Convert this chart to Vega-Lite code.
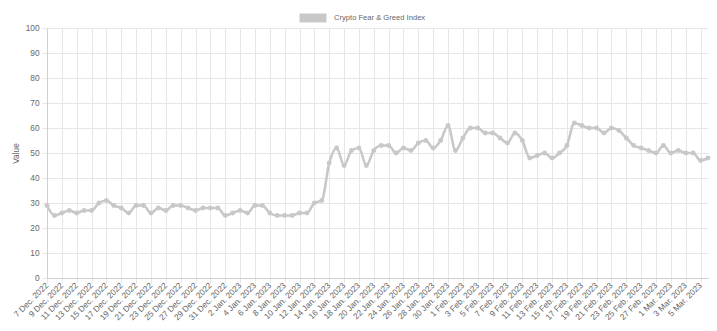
{
  "$schema": "https://vega.github.io/schema/vega-lite/v6.json",
  "width": 661,
  "height": 250,
  "autosize": {"type": "none"},
  "padding": {"left": 47, "top": 28, "right": 9, "bottom": 53},
  "background": "#ffffff",
  "config": {
    "view": {"stroke": null},
    "font": "Liberation Sans",
    "axis": {
      "labelFont": "Liberation Sans",
      "labelFontSize": 8.3,
      "labelColor": "#666666",
      "gridColor": "#e6e6e6",
      "gridWidth": 1,
      "domainColor": "#cfcfcf",
      "tickColor": "#e6e6e6",
      "tickSize": 5,
      "titleFont": "Liberation Sans",
      "titleFontSize": 8.3,
      "titleColor": "#666666",
      "titleFontWeight": "normal"
    }
  },
  "data": {
    "values": [
      {"date": "7 Dec. 2022", "value": 29},
      {"date": "8 Dec. 2022", "value": 25},
      {"date": "9 Dec. 2022", "value": 26},
      {"date": "10 Dec. 2022", "value": 27},
      {"date": "11 Dec. 2022", "value": 26},
      {"date": "12 Dec. 2022", "value": 27},
      {"date": "13 Dec. 2022", "value": 27},
      {"date": "14 Dec. 2022", "value": 30},
      {"date": "15 Dec. 2022", "value": 31},
      {"date": "16 Dec. 2022", "value": 29},
      {"date": "17 Dec. 2022", "value": 28},
      {"date": "18 Dec. 2022", "value": 26},
      {"date": "19 Dec. 2022", "value": 29},
      {"date": "20 Dec. 2022", "value": 29},
      {"date": "21 Dec. 2022", "value": 26},
      {"date": "22 Dec. 2022", "value": 28},
      {"date": "23 Dec. 2022", "value": 27},
      {"date": "24 Dec. 2022", "value": 29},
      {"date": "25 Dec. 2022", "value": 29},
      {"date": "26 Dec. 2022", "value": 28},
      {"date": "27 Dec. 2022", "value": 27},
      {"date": "28 Dec. 2022", "value": 28},
      {"date": "29 Dec. 2022", "value": 28},
      {"date": "30 Dec. 2022", "value": 28},
      {"date": "31 Dec. 2022", "value": 25},
      {"date": "1 Jan. 2023", "value": 26},
      {"date": "2 Jan. 2023", "value": 27},
      {"date": "3 Jan. 2023", "value": 26},
      {"date": "4 Jan. 2023", "value": 29},
      {"date": "5 Jan. 2023", "value": 29},
      {"date": "6 Jan. 2023", "value": 26},
      {"date": "7 Jan. 2023", "value": 25},
      {"date": "8 Jan. 2023", "value": 25},
      {"date": "9 Jan. 2023", "value": 25},
      {"date": "10 Jan. 2023", "value": 26},
      {"date": "11 Jan. 2023", "value": 26},
      {"date": "12 Jan. 2023", "value": 30},
      {"date": "13 Jan. 2023", "value": 31},
      {"date": "14 Jan. 2023", "value": 46},
      {"date": "15 Jan. 2023", "value": 52},
      {"date": "16 Jan. 2023", "value": 45},
      {"date": "17 Jan. 2023", "value": 51},
      {"date": "18 Jan. 2023", "value": 52},
      {"date": "19 Jan. 2023", "value": 45},
      {"date": "20 Jan. 2023", "value": 51},
      {"date": "21 Jan. 2023", "value": 53},
      {"date": "22 Jan. 2023", "value": 53},
      {"date": "23 Jan. 2023", "value": 50},
      {"date": "24 Jan. 2023", "value": 52},
      {"date": "25 Jan. 2023", "value": 51},
      {"date": "26 Jan. 2023", "value": 54},
      {"date": "27 Jan. 2023", "value": 55},
      {"date": "28 Jan. 2023", "value": 52},
      {"date": "29 Jan. 2023", "value": 55},
      {"date": "30 Jan. 2023", "value": 61},
      {"date": "31 Jan. 2023", "value": 51},
      {"date": "1 Feb. 2023", "value": 56},
      {"date": "2 Feb. 2023", "value": 60},
      {"date": "3 Feb. 2023", "value": 60},
      {"date": "4 Feb. 2023", "value": 58},
      {"date": "5 Feb. 2023", "value": 58},
      {"date": "6 Feb. 2023", "value": 56},
      {"date": "7 Feb. 2023", "value": 54},
      {"date": "8 Feb. 2023", "value": 58},
      {"date": "9 Feb. 2023", "value": 55},
      {"date": "10 Feb. 2023", "value": 48},
      {"date": "11 Feb. 2023", "value": 49},
      {"date": "12 Feb. 2023", "value": 50},
      {"date": "13 Feb. 2023", "value": 48},
      {"date": "14 Feb. 2023", "value": 50},
      {"date": "15 Feb. 2023", "value": 53},
      {"date": "16 Feb. 2023", "value": 62},
      {"date": "17 Feb. 2023", "value": 61},
      {"date": "18 Feb. 2023", "value": 60},
      {"date": "19 Feb. 2023", "value": 60},
      {"date": "20 Feb. 2023", "value": 58},
      {"date": "21 Feb. 2023", "value": 60},
      {"date": "22 Feb. 2023", "value": 59},
      {"date": "23 Feb. 2023", "value": 56},
      {"date": "24 Feb. 2023", "value": 53},
      {"date": "25 Feb. 2023", "value": 52},
      {"date": "26 Feb. 2023", "value": 51},
      {"date": "27 Feb. 2023", "value": 50},
      {"date": "28 Feb. 2023", "value": 53},
      {"date": "1 Mar. 2023", "value": 50},
      {"date": "2 Mar. 2023", "value": 51},
      {"date": "3 Mar. 2023", "value": 50},
      {"date": "4 Mar. 2023", "value": 50},
      {"date": "5 Mar. 2023", "value": 47},
      {"date": "6 Mar. 2023", "value": 48}
    ]
  },
  "mark": {
    "type": "line",
    "interpolate": "monotone",
    "strokeWidth": 2.6,
    "point": {"filled": true, "size": 24, "color": "#c8c8c8"}
  },
  "encoding": {
    "x": {
      "field": "date",
      "type": "ordinal",
      "sort": null,
      "scale": {"type": "point", "padding": 0},
      "axis": {
        "title": null,
        "values": ["7 Dec. 2022", "9 Dec. 2022", "11 Dec. 2022", "13 Dec. 2022", "15 Dec. 2022", "17 Dec. 2022", "19 Dec. 2022", "21 Dec. 2022", "23 Dec. 2022", "25 Dec. 2022", "27 Dec. 2022", "29 Dec. 2022", "31 Dec. 2022", "2 Jan. 2023", "4 Jan. 2023", "6 Jan. 2023", "8 Jan. 2023", "10 Jan. 2023", "12 Jan. 2023", "14 Jan. 2023", "16 Jan. 2023", "18 Jan. 2023", "20 Jan. 2023", "22 Jan. 2023", "24 Jan. 2023", "26 Jan. 2023", "28 Jan. 2023", "30 Jan. 2023", "1 Feb. 2023", "3 Feb. 2023", "5 Feb. 2023", "7 Feb. 2023", "9 Feb. 2023", "11 Feb. 2023", "13 Feb. 2023", "15 Feb. 2023", "17 Feb. 2023", "19 Feb. 2023", "21 Feb. 2023", "23 Feb. 2023", "25 Feb. 2023", "27 Feb. 2023", "1 Mar. 2023", "3 Mar. 2023", "5 Mar. 2023"],
        "labelAngle": -45,
        "labelAlign": "right",
        "labelBaseline": "middle",
        "labelPadding": 1,
        "labelOverlap": false,
        "grid": true
      }
    },
    "y": {
      "field": "value",
      "type": "quantitative",
      "scale": {"domain": [0, 100], "nice": false},
      "axis": {
        "title": "Value",
        "values": [0, 10, 20, 30, 40, 50, 60, 70, 80, 90, 100],
        "labelPadding": 3,
        "titlePadding": 5,
        "grid": true
      }
    },
    "color": {
      "datum": "Crypto Fear & Greed Index",
      "type": "nominal",
      "scale": {"range": ["#c8c8c8"]},
      "legend": {
        "title": null,
        "orient": "none",
        "legendX": 248,
        "legendY": -28,
        "symbolType": "stroke",
        "symbolSize": 729,
        "symbolStrokeWidth": 9,
        "symbolStrokeColor": "#c8c8c8",
        "labelFont": "Liberation Sans",
        "labelFontSize": 7.6,
        "labelColor": "#666666",
        "labelOffset": 3
      }
    }
  }
}
